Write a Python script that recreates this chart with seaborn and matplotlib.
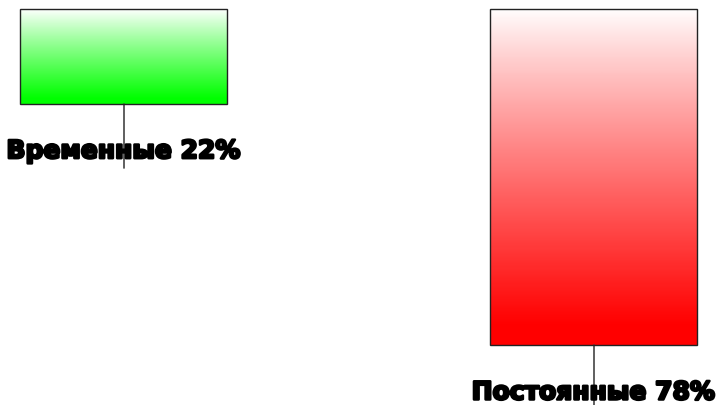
import numpy as np
import pandas as pd
import matplotlib
matplotlib.use("Agg")
import matplotlib.pyplot as plt
import matplotlib.patheffects as pe
from matplotlib.colors import LinearSegmentedColormap
import seaborn as sns

categories = ["Временные", "Постоянные"]
shares = [22, 78]
bar_colors = ["#00ff00", "#ff0000"]

df = pd.DataFrame({"category": categories, "share": shares})

sns.set_theme(style="white")
plt.rcParams["font.family"] = ["DejaVu Sans"]

fig = plt.figure(figsize=(7.19, 4.06), dpi=100)
ax = fig.add_axes([0, 0, 1, 1])

sns.barplot(data=df, x="category", y="share", hue="category",
            palette=bar_colors, width=0.44, legend=False, ax=ax,
            edgecolor="#222222", linewidth=1.0)

# vertical white-to-colour gradient inside every bar
grad = np.linspace(0, 1, 256).reshape(-1, 1)
for patch, col in zip(ax.patches, bar_colors):
    x0, y0 = patch.get_x(), patch.get_y()
    w, h = patch.get_width(), patch.get_height()
    cmap = LinearSegmentedColormap.from_list(
        "g", [(0, "#ffffff"), (0.95, col), (1, col)])
    im = ax.imshow(grad ** 0.9, cmap=cmap, aspect="auto",
                   extent=[x0, x0 + w, y0 + h, y0], origin="upper",
                   zorder=patch.get_zorder() - 0.1, vmin=0, vmax=1)
    im.set_clip_path(patch)
    patch.set_facecolor("none")
    patch.set_zorder(3)

ax.set_xlim(-0.263, 1.267)
ax.set_ylim(91.9, -2.32)

# leader lines and labels under each bar
for i, (cat, v) in enumerate(zip(categories, shares)):
    ax.plot([i, i], [v, v + 15], color="#444444", lw=1.2, zorder=2)
    ax.text(i, v + 11, f"{cat} {v}%", ha="center", va="center",
            fontsize=18, fontweight="bold", color="black", zorder=4,
            path_effects=[pe.withStroke(linewidth=1.8, foreground="black")])

ax.axis("off")
fig.savefig("out.png", dpi=100, facecolor="white")
